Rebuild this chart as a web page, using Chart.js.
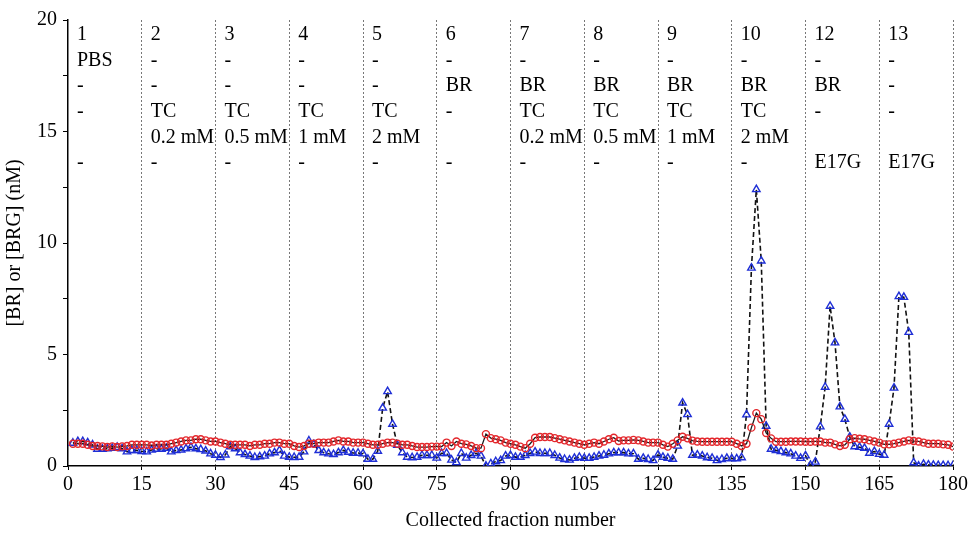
<!DOCTYPE html>
<html>
<head>
<meta charset="utf-8">
<title>Collected fractions</title>
<script src="https://cdn.jsdelivr.net/npm/chart.js@4"></script>
<style>
    html, body { margin: 0; padding: 0; background: #fff; }
    #wrap { width: 968px; height: 539px; }
</style>
</head>
<body>
<div id="wrap"><canvas id="fractionChart"></canvas></div>
<script>
// ========== Data ==========
// one value per collected fraction, fractions 1..180
const brValues = [
    1.0, 1.0, 1.0, 0.95, 0.9, 0.9, 0.88, 0.85, 0.88, 0.85, 0.88, 0.9, 0.95, 0.95, 0.95,
    0.95, 0.92, 0.95, 0.95, 0.95, 1.0, 1.05, 1.1, 1.15, 1.15, 1.2, 1.2, 1.15, 1.1, 1.1,
    1.05, 1.0, 0.95, 0.95, 0.95, 0.95, 0.9, 0.95, 0.95, 1.0, 1.0, 1.05, 1.05, 1.0, 1.0,
    0.9, 0.85, 0.9, 1.0, 1.0, 1.05, 1.05, 1.05, 1.1, 1.15, 1.1, 1.1, 1.05, 1.05, 1.05,
    1.0, 0.95, 0.95, 1.0, 1.05, 1.05, 1.0, 0.95, 0.95, 0.9, 0.85, 0.85, 0.85, 0.87, 0.87,
    0.87, 1.05, 0.9, 1.1, 1.0, 0.97, 0.9, 0.8, 0.8, 1.43, 1.25, 1.2, 1.15, 1.05, 1.0,
    0.95, 0.87, 0.8, 1.0, 1.27, 1.3, 1.3, 1.3, 1.25, 1.2, 1.15, 1.1, 1.05, 1.0, 0.95,
    1.0, 1.05, 1.0, 1.1, 1.2, 1.27, 1.12, 1.15, 1.15, 1.17, 1.15, 1.1, 1.05, 1.05, 1.05,
    0.95, 0.87, 1.0, 1.15, 1.31, 1.24, 1.14, 1.1, 1.09, 1.09, 1.09, 1.09, 1.09, 1.09, 1.09,
    1.0, 0.9, 1.0, 1.72, 2.37, 2.1, 1.48, 1.24, 1.09, 1.09, 1.09, 1.1, 1.1, 1.1, 1.09,
    1.09, 1.1, 1.1, 1.05, 1.05, 0.97, 0.9, 0.95, 1.2, 1.25, 1.22, 1.2, 1.15, 1.1, 1.05,
    0.97, 0.97, 1.0, 1.05, 1.1, 1.15, 1.12, 1.1, 1.05, 1.0, 1.0, 1.0, 0.97, 0.95, 0.87
];

const brgValues = [
    1.03, 1.1, 1.1, 1.05, 0.95, 0.76, 0.76, 0.78, 0.8, 0.84, 0.78, 0.64, 0.7, 0.7, 0.66,
    0.64, 0.72, 0.76, 0.76, 0.8, 0.64, 0.7, 0.72, 0.78, 0.84, 0.78, 0.74, 0.68, 0.55, 0.49,
    0.39, 0.5, 0.87, 0.78, 0.6, 0.52, 0.45, 0.39, 0.42, 0.45, 0.55, 0.6, 0.7, 0.45, 0.4,
    0.39, 0.4, 0.64, 1.13, 0.97, 0.7, 0.6, 0.55, 0.52, 0.6, 0.7, 0.62, 0.58, 0.58, 0.55,
    0.31, 0.31, 0.67, 2.6, 3.34, 1.88, 0.94, 0.6, 0.4, 0.38, 0.4, 0.48, 0.48, 0.48, 0.36,
    0.57, 0.57, 0.27, 0.16, 0.57, 0.36, 0.48, 0.57, 0.45, 0.0, 0.1, 0.2, 0.25, 0.45, 0.48,
    0.4, 0.4, 0.48, 0.57, 0.63, 0.57, 0.57, 0.57, 0.48, 0.36, 0.3, 0.27, 0.35, 0.4, 0.35,
    0.35, 0.4, 0.45, 0.49, 0.55, 0.6, 0.6, 0.6, 0.55, 0.55, 0.31, 0.35, 0.3, 0.25, 0.5,
    0.4, 0.35, 0.31, 0.9, 2.83, 2.31, 0.49, 0.5, 0.45, 0.38, 0.35, 0.25, 0.3, 0.35, 0.33,
    0.33, 0.38, 2.3, 8.88, 12.4, 9.2, 1.79, 0.76, 0.7, 0.65, 0.6, 0.55, 0.45, 0.35, 0.46,
    0.04, 0.18, 1.76, 3.54, 7.17, 5.53, 2.66, 2.1, 1.3, 0.87, 0.84, 0.8, 0.58, 0.65, 0.53,
    0.49, 1.88, 3.5, 7.6, 7.57, 6.0, 0.15, 0.0, 0.08, 0.05, 0.04, 0.03, 0.03, 0.02, 0.02
];

// fraction where each condition block starts
const blockStarts = [0, 15, 30, 45, 60, 75, 90, 105, 120, 135, 150, 165];

// text written at the top of each block, one row per line
const blockLabels = [
    ['1', 'PBS', '-', '-', '', '-'],
    ['2', '-', '-', 'TC', '0.2 mM', '-'],
    ['3', '-', '-', 'TC', '0.5 mM', '-'],
    ['4', '-', '-', 'TC', '1 mM', '-'],
    ['5', '-', '-', 'TC', '2 mM', '-'],
    ['6', '-', 'BR', '-', '', '-'],
    ['7', '-', 'BR', 'TC', '0.2 mM', '-'],
    ['8', '-', 'BR', 'TC', '0.5 mM', '-'],
    ['9', '-', 'BR', 'TC', '1 mM', '-'],
    ['10', '-', 'BR', 'TC', '2 mM', '-'],
    ['12', '-', 'BR', '-', '', 'E17G'],
    ['13', '-', '-', '-', '', 'E17G']
];

const SERIF = '"Liberation Serif", "Times New Roman", serif';

// ========== Block labels plugin ==========
const blockLabelPlugin = {
    id: 'blockLabels',
    afterDraw(chart) {
        const ctx = chart.ctx;
        const xs = chart.scales.x;
        const top = chart.chartArea.top;
        ctx.save();
        ctx.font = '20px ' + SERIF;
        ctx.fillStyle = '#000';
        ctx.textAlign = 'left';
        ctx.textBaseline = 'middle';
        blockStarts.forEach((start, i) => {
            const x = xs.getPixelForValue(start) + 9;
            blockLabels[i].forEach((line, row) => {
                if (line) ctx.fillText(line, x, top + 15 + row * 25.6);
            });
        });
        ctx.restore();
    }
};

document.addEventListener('DOMContentLoaded', function () {
    const ctx = document.getElementById('fractionChart').getContext('2d');

    new Chart(ctx, {
        type: 'line',
        data: {
            datasets: [
                {
                    label: 'BR',
                    data: brValues.map((v, i) => ({ x: i + 1, y: v })),
                    borderColor: '#1a1a1a',
                    borderWidth: 1.3,
                    pointStyle: 'circle',
                    pointRadius: 3.5,
                    pointBorderWidth: 1.4,
                    pointBorderColor: '#e3262b',
                    pointBackgroundColor: 'rgba(0,0,0,0)',
                    tension: 0,
                    order: 0
                },
                {
                    label: 'BRG',
                    data: brgValues.map((v, i) => ({ x: i + 1, y: v })),
                    borderColor: '#111',
                    borderWidth: 1.6,
                    borderDash: [5, 3],
                    pointStyle: 'triangle',
                    pointRadius: 4.3,
                    pointBorderWidth: 1.4,
                    pointBorderColor: '#1f2fd6',
                    pointBackgroundColor: 'rgba(0,0,0,0)',
                    tension: 0,
                    order: 1
                }
            ]
        },
        options: {
            responsive: true,
            maintainAspectRatio: false,
            animation: false,
            layout: { padding: { top: 20, right: 15 } },
            plugins: {
                legend: { display: false },
                tooltip: { enabled: false }
            },
            scales: {
                x: {
                    type: 'linear',
                    min: 0,
                    max: 180,
                    afterFit: (s) => {
                        s.height = 73;
                        s.paddingLeft = 0;
                        s.paddingRight = 0;
                    },
                    ticks: {
                        stepSize: 15,
                        autoSkip: false,
                        maxRotation: 0,
                        padding: 3,
                        color: '#000',
                        font: { family: SERIF, size: 20 }
                    },
                    grid: {
                        color: (c) => c.tick && c.tick.value === 0 ? 'rgba(0,0,0,0)' : '#777',
                        lineWidth: 1,
                        tickLength: 4,
                        tickColor: '#000',
                        tickBorderDash: []
                    },
                    border: { display: true, color: '#000', width: 1.5, dash: [2, 2] },
                    title: {
                        display: true,
                        text: 'Collected fraction number',
                        color: '#000',
                        font: { family: SERIF, size: 20 },
                        padding: { top: 0, bottom: 6 }
                    }
                },
                y: {
                    min: 0,
                    max: 20,
                    afterFit: (s) => { s.width = 68; },
                    ticks: {
                        stepSize: 2.5,
                        padding: 6,
                        color: '#000',
                        font: { family: SERIF, size: 20 },
                        callback: (v) => (v % 5 === 0 ? v : '')
                    },
                    grid: {
                        drawOnChartArea: false,
                        tickLength: 5,
                        tickColor: '#000'
                    },
                    border: { display: true, color: '#000', width: 1.5 },
                    title: {
                        display: true,
                        text: '[BR] or [BRG] (nM)',
                        color: '#000',
                        font: { family: SERIF, size: 20 },
                        padding: { top: 3, bottom: 0 }
                    }
                }
            }
        },
        plugins: [blockLabelPlugin]
    });
});
</script>
</body>
</html>
